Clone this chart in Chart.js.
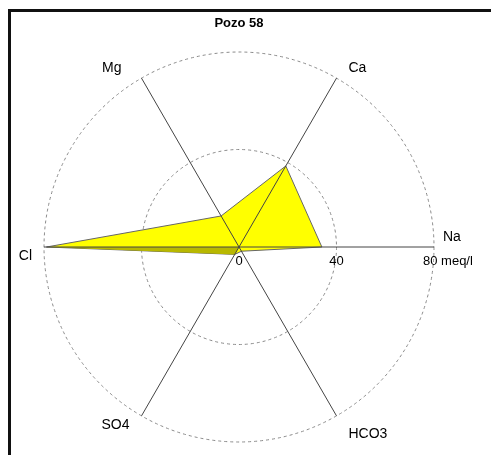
<!DOCTYPE html>
<html>
<head>
<meta charset="utf-8">
<script src="https://cdn.jsdelivr.net/npm/chart.js@4.4.1/dist/chart.umd.min.js"></script>
<style>
  body { margin: 0; background: #fff; }
  #chart__Div { position: relative; width: 491px; height: 455px; overflow: hidden; }
  #chart__Frame { position: absolute; left: 8px; top: 9px; width: 600px; height: 600px;
                  border-left: 3px solid #111; border-top: 3px solid #111; }
  #chart__Canvas { position: absolute; left: 0; top: 0; }
</style>
</head>
<body>
<div id="chart__Div">
  <div id="chart__Frame"></div>
  <canvas id="chart__Canvas" width="491" height="455"></canvas>
</div>
<script>
// Ions, clockwise starting from the right hand axis
const ions = ['Na', 'HCO3', 'SO4', 'Cl', 'Mg', 'Ca'];
const meqValues = [34, 2, 3.5, 79, 14.7, 38.4];
const scaleTicks = [0, 40, 80];
const unitLabel = 'meq/l';
const wellName = 'Pozo 58';

// Cl - SO4 wedge is shaded darker
const shadedIons = ['Cl', 'SO4'];
const shadedValues = ions.map((ion, i) => shadedIons.includes(ion) ? meqValues[i] : 0);

const FONT = '"Liberation Sans", Arial, sans-serif';

// label offsets from the end of each axis [dx, dy, align]
const labelOffsets = [
  [9, -10, 'left'],
  [12, 18, 'left'],
  [-12, 9, 'right'],
  [-12, 9, 'right'],
  [-20, -10, 'right'],
  [12, -10, 'left']
];

// axes over the polygon + ion names + tick values
const axesAndLabels = {
  id: 'axesAndLabels',
  afterDatasetsDraw(chart) {
    const scale = chart.scales.r;
    const ctx = chart.ctx;
    const cx = scale.xCenter, cy = scale.yCenter;
    ctx.save();

    ctx.strokeStyle = '#444';
    ctx.lineWidth = 1;
    ions.forEach((ion, i) => {
      const end = scale.getPointPosition(i, scale.drawingArea);
      ctx.beginPath();
      ctx.moveTo(cx, cy);
      ctx.lineTo(end.x, end.y);
      ctx.stroke();
    });

    ctx.fillStyle = '#000';
    ctx.font = '14px ' + FONT;
    ctx.textBaseline = 'middle';
    ions.forEach((ion, i) => {
      const end = scale.getPointPosition(i, scale.drawingArea);
      const off = labelOffsets[i];
      ctx.textAlign = off[2];
      ctx.fillText(ion, end.x + off[0], end.y + off[1]);
    });

    // tick values along the Na axis
    ctx.font = '13px ' + FONT;
    scaleTicks.forEach((t, i) => {
      const x = cx + scale.getDistanceFromCenterForValue(t);
      if (i === scaleTicks.length - 1) {
        ctx.textAlign = 'left';
        ctx.fillText(t + ' ' + unitLabel, x - 11, cy + 14);
      } else {
        ctx.textAlign = 'center';
        ctx.fillText(String(t), x, cy + 14);
      }
    });
    ctx.restore();
  }
};

new Chart(document.getElementById('chart__Canvas'), {
  type: 'radar',
  data: {
    labels: ions,
    datasets: [
      {
        data: meqValues,
        backgroundColor: '#ffff00',
        borderColor: '#666',
        borderWidth: 1,
        pointRadius: 0,
        fill: true,
        order: 2
      },
      {
        data: shadedValues,
        backgroundColor: '#b8b800',
        borderWidth: 0,
        pointRadius: 0,
        fill: true,
        order: 1
      }
    ]
  },
  options: {
    responsive: false,
    animation: false,
    layout: { padding: { left: 44, right: 57, top: 0, bottom: 12 } },
    plugins: {
      legend: { display: false },
      tooltip: { enabled: false },
      title: {
        display: true,
        text: wellName,
        color: '#000',
        font: { family: FONT, size: 13, weight: 'bold' },
        padding: { top: 16, bottom: 21 }
      }
    },
    elements: { line: { tension: 0 } },
    scales: {
      r: {
        startAngle: 90,
        min: 0,
        max: 80,
        ticks: { display: false, stepSize: 40 },
        pointLabels: { display: false },
        angleLines: { display: false },
        grid: { circular: true, color: '#8a8a8a', lineWidth: 1 },
        border: { dash: [3, 3] }
      }
    }
  },
  plugins: [axesAndLabels]
});
</script>
</body>
</html>
